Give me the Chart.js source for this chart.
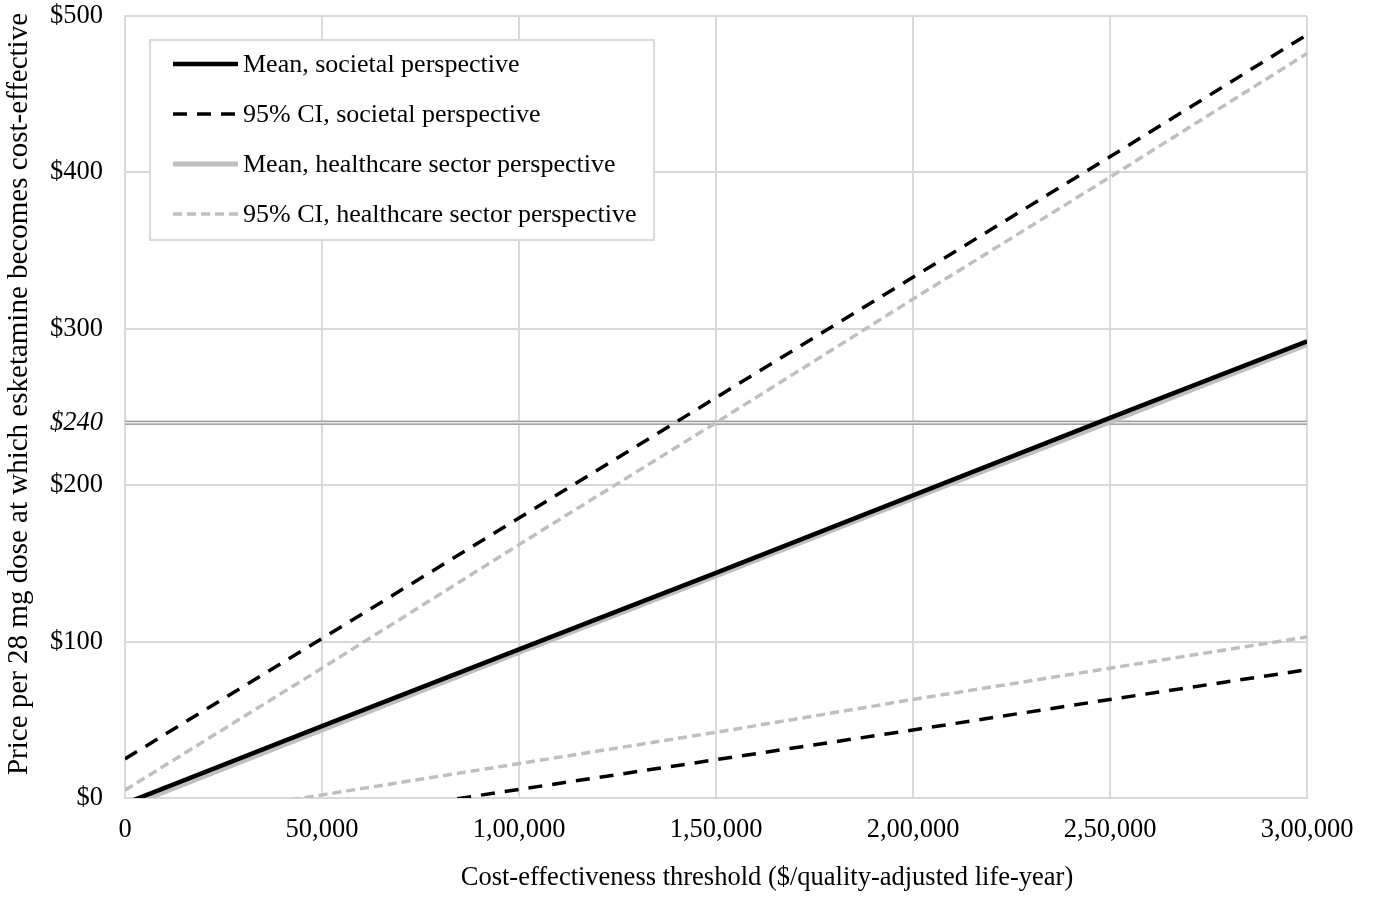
<!DOCTYPE html>
<html>
<head>
<meta charset="utf-8">
<script src="https://cdn.jsdelivr.net/npm/chart.js@4"></script>
<style>
  html, body { margin: 0; padding: 0; background: #ffffff; }
  canvas { display: block; }
</style>
</head>
<body>
<canvas id="chart" width="1373" height="897"></canvas>
<script>
// Cost-effectiveness threshold ($/QALY) at each grid step
const xValues = [0, 50000, 100000, 150000, 200000, 250000, 300000];
const xTickLabels = ['0', '50,000', '1,00,000', '1,50,000', '2,00,000', '2,50,000', '3,00,000'];

// Price per 28 mg dose ($) at which esketamine becomes cost-effective
const meanSocietal      = [-3.5, 46, 95, 144, 193.5, 243, 292];
const ciSocietalUpper   = [25, 102, 179, 256, 333, 410, 488];
const ciSocietalLower   = [-32.5, -13.5, 5.5, 24.5, 43.5, 63, 82];
const meanHealthcare    = [-6, 43.5, 93, 142, 191.5, 240.5, 290];
const ciHealthcareUpper = [5, 83, 162, 240, 319, 397, 476];
const ciHealthcareLower = [-18, 2, 22, 42, 63, 83, 103];

// Current price per dose, drawn as a reference line
const currentPrice = 240;

const yTickValues = [0, 100, 200, 240, 300, 400, 500];
const yTickLabels = ['$0', '$100', '$200', '$240', '$300', '$400', '$500'];

const seriesLabels = [
  'Mean, societal perspective',
  '95% CI, societal perspective',
  'Mean, healthcare sector perspective',
  '95% CI, healthcare sector perspective'
];

const FONT = "'Liberation Serif', 'Times New Roman', serif";
const FS = 26.5;
const BLACK = '#000000';
const GREY = '#bfbfbf';
const GRID = '#d9d9d9';

const pts = arr => xValues.map((x, i) => ({ x, y: arr[i] }));
const flat = v => xValues.map(x => ({ x, y: v }));

const common = { pointRadius: 0, pointHoverRadius: 0, fill: false, tension: 0, clip: 0, borderCapStyle: 'butt' };

const datasets = [
  { ...common, label: seriesLabels[0], data: pts(meanSocietal), borderColor: BLACK, borderWidth: 4.5, order: 1 },
  { ...common, label: seriesLabels[1], data: pts(ciSocietalUpper), borderColor: BLACK, borderWidth: 3.5, borderDash: [14, 10], order: 2 },
  { ...common, label: seriesLabels[1], legendSkip: true, data: pts(ciSocietalLower), borderColor: BLACK, borderWidth: 3.5, borderDash: [14, 10], order: 2 },
  { ...common, label: seriesLabels[2], data: pts(meanHealthcare), borderColor: GREY, borderWidth: 5, order: 3 },
  { ...common, label: seriesLabels[3], data: pts(ciHealthcareUpper), borderColor: GREY, borderWidth: 3.5, borderDash: [9, 5], order: 4 },
  { ...common, label: seriesLabels[3], legendSkip: true, data: pts(ciHealthcareLower), borderColor: GREY, borderWidth: 3.5, borderDash: [9, 5], order: 4 },
  // double rule at the current price
  { ...common, label: 'price', legendSkip: true, data: flat(currentPrice), borderColor: '#e6e6e6', borderWidth: 1.5, order: 8 },
  { ...common, label: 'price', legendSkip: true, data: flat(currentPrice), borderColor: '#a3a3a3', borderWidth: 4.5, order: 9 }
];

// Boxed legend inside the plot plus the two axis titles
const decorations = {
  id: 'decorations',
  afterDatasetsDraw(chart) {
    const ctx = chart.ctx;
    ctx.save();
    // legend box
    const bx = 150, by = 40, bw = 504, bh = 200;
    ctx.fillStyle = '#ffffff';
    ctx.fillRect(bx, by, bw, bh);
    ctx.strokeStyle = GRID;
    ctx.lineWidth = 2;
    ctx.strokeRect(bx, by, bw, bh);

    const items = chart.data.datasets.filter(d => !d.legendSkip);
    ctx.font = '26px ' + FONT;
    ctx.textBaseline = 'middle';
    ctx.textAlign = 'left';
    items.forEach((d, i) => {
      const y = 64 + i * 50;
      ctx.beginPath();
      ctx.setLineDash(d.borderDash || []);
      ctx.strokeStyle = d.borderColor;
      ctx.lineWidth = d.borderWidth;
      ctx.lineCap = 'butt';
      ctx.moveTo(173, y);
      ctx.lineTo(238, y);
      ctx.stroke();
      ctx.setLineDash([]);
      ctx.fillStyle = '#000000';
      ctx.fillText(d.label, 243, y + 1);
    });

    // axis titles
    ctx.fillStyle = '#000000';
    ctx.textAlign = 'center';
    ctx.textBaseline = 'middle';
    ctx.font = FS + 'px ' + FONT;
    ctx.fillText('Cost-effectiveness threshold ($/quality-adjusted life-year)', 767, 878);
    ctx.font = '29px ' + FONT;
    ctx.translate(19, 394);
    ctx.rotate(-Math.PI / 2);
    ctx.fillText('Price per 28 mg dose at which esketamine becomes cost-effective', 0, 0);
    ctx.restore();
  }
};

new Chart(document.getElementById('chart'), {
  type: 'line',
  data: { datasets },
  plugins: [decorations],
  options: {
    responsive: false,
    animation: false,
    events: [],
    layout: { padding: { top: 16, right: 66, left: 0, bottom: 0 } },
    plugins: { legend: { display: false }, tooltip: { enabled: false } },
    scales: {
      x: {
        type: 'linear',
        min: 0,
        max: 300000,
        afterFit(scale) {
          scale.height = 99;
          scale.paddingLeft = 0;
          scale.paddingRight = 0;
        },
        afterBuildTicks(scale) { scale.ticks = xValues.map(v => ({ value: v })); },
        ticks: {
          autoSkip: false,
          maxRotation: 0,
          padding: 16,
          color: '#000000',
          font: { family: FONT, size: FS },
          callback: (v, i) => xTickLabels[i]
        },
        grid: { color: GRID, lineWidth: 2, drawTicks: false },
        border: { color: GRID, width: 2 }
      },
      y: {
        type: 'linear',
        min: 0,
        max: 500,
        afterFit(scale) {
          scale.width = 125;
          scale.paddingTop = 0;
          scale.paddingBottom = 0;
        },
        afterBuildTicks(scale) { scale.ticks = yTickValues.map(v => ({ value: v })); },
        ticks: {
          autoSkip: false,
          padding: 22,
          color: '#000000',
          font: ctx => ({ family: FONT, size: FS, style: ctx.tick && ctx.tick.value === currentPrice ? 'italic' : 'normal' }),
          callback: (v, i) => yTickLabels[i]
        },
        grid: {
          color: ctx => (ctx.tick && ctx.tick.value === currentPrice ? 'rgba(0,0,0,0)' : GRID),
          lineWidth: 2,
          drawTicks: false
        },
        border: { color: GRID, width: 2 }
      }
    }
  }
});
</script>
</body>
</html>
